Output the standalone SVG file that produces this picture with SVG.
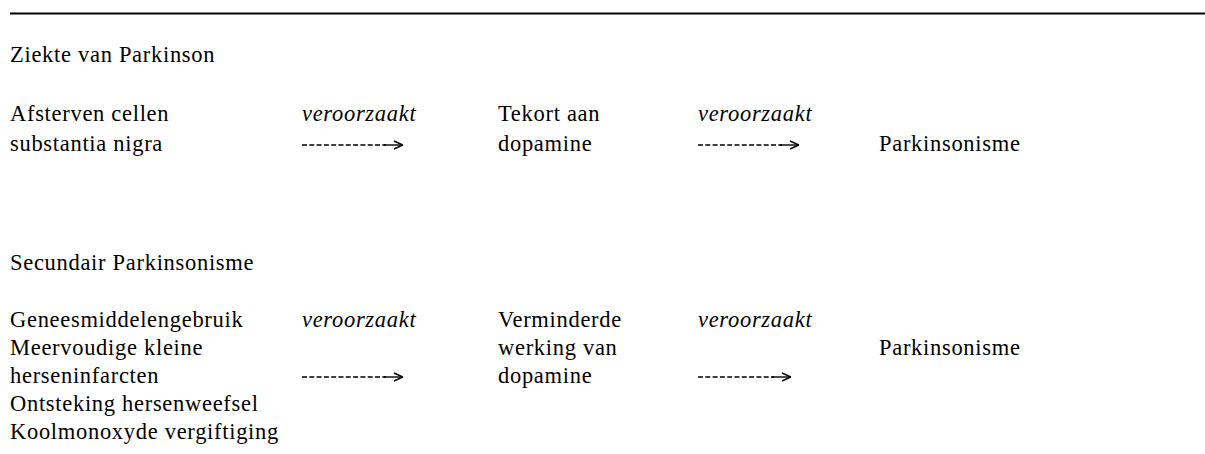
<svg xmlns="http://www.w3.org/2000/svg" width="1205" height="454" viewBox="0 0 1205 454">
  <style>
    text { font-family: "Liberation Serif", "Times New Roman", serif; font-size: 22.5px; fill: #000; letter-spacing: 0.7px; }
    .it { font-style: italic; }
    .conn { stroke: #000; stroke-width: 1.4; fill: none; }
    .dash { stroke-dasharray: 5 2.3; }
  </style>
  <defs>
    <marker id="arr" viewBox="0 0 10 10" refX="10" refY="5" markerWidth="10" markerHeight="10" markerUnits="userSpaceOnUse" orient="auto">
      <path d="M1,1 L10,5 L1,9" fill="none" stroke="#000" stroke-width="1.4"/>
    </marker>
  </defs>
  <rect width="1205" height="454" fill="#fff"/>
  <line x1="10" y1="13.5" x2="1205" y2="13.5" stroke="#000" stroke-width="2"/>

  <g id="title1"><text x="10" y="62">Ziekte van Parkinson</text></g>
  <g id="cause1"><text x="10" y="121">Afsterven cellen</text><text x="10" y="151">substantia nigra</text></g>
  <g id="label1a"><text class="it" x="302" y="121">veroorzaakt</text></g>
  <g id="mid1"><text x="498" y="121">Tekort aan</text><text x="498" y="151">dopamine</text></g>
  <g id="label1b"><text class="it" x="698" y="121">veroorzaakt</text></g>
  <g id="result1"><text x="879" y="151">Parkinsonisme</text></g>

  <g id="title2"><text x="10" y="270">Secundair Parkinsonisme</text></g>
  <g id="cause2">
    <text x="10" y="327">Geneesmiddelengebruik</text>
    <text x="10" y="355">Meervoudige kleine</text>
    <text x="10" y="383">herseninfarcten</text>
    <text x="10" y="411">Ontsteking hersenweefsel</text>
    <text x="10" y="439">Koolmonoxyde vergiftiging</text>
  </g>
  <g id="label2a"><text class="it" x="302" y="327">veroorzaakt</text></g>
  <g id="mid2"><text x="498" y="327">Verminderde</text><text x="498" y="355">werking van</text><text x="498" y="383">dopamine</text></g>
  <g id="label2b"><text class="it" x="698" y="327">veroorzaakt</text></g>
  <g id="result2"><text x="879" y="355">Parkinsonisme</text></g>

  <g id="connectors">
    <line class="conn dash" x1="302" y1="145" x2="386" y2="145"/>
    <line class="conn" x1="384" y1="145" x2="403" y2="145" marker-end="url(#arr)"/>
    <line class="conn dash" x1="698" y1="145" x2="782" y2="145"/>
    <line class="conn" x1="780" y1="145" x2="799" y2="145" marker-end="url(#arr)"/>
    <line class="conn dash" x1="302" y1="377" x2="386" y2="377"/>
    <line class="conn" x1="384" y1="377" x2="403" y2="377" marker-end="url(#arr)"/>
    <line class="conn dash" x1="698" y1="377" x2="774" y2="377"/>
    <line class="conn" x1="772" y1="377" x2="791" y2="377" marker-end="url(#arr)"/>
  </g>
</svg>
